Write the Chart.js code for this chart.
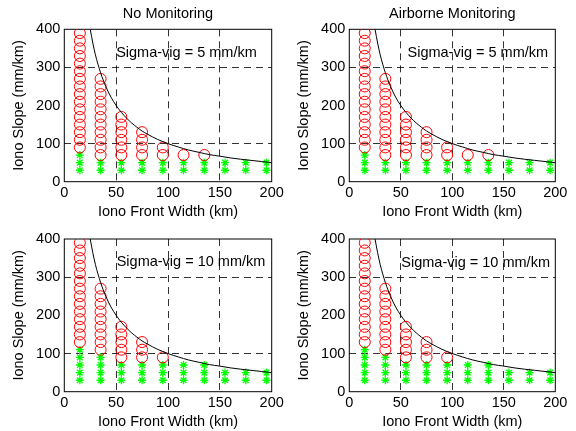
<!DOCTYPE html>
<html>
<head>
<meta charset="utf-8">
<script src="https://cdn.jsdelivr.net/npm/chart.js@4/dist/chart.umd.min.js"></script>
<style>
  body { margin: 0; background: #fff; }
  #wrap { position: relative; width: 576px; height: 431px; overflow: hidden; }
  canvas { position: absolute; }
</style>
</head>
<body>
<div id="wrap">
  <canvas id="c1" width="288" height="221" style="left:0px;top:0px;width:288px;height:221px"></canvas>
  <canvas id="c2" width="291" height="221" style="left:285px;top:0px;width:291px;height:221px"></canvas>
  <canvas id="c3" width="288" height="210" style="left:0px;top:221px;width:288px;height:210px"></canvas>
  <canvas id="c4" width="291" height="210" style="left:285px;top:221px;width:291px;height:210px"></canvas>
</div>
<script>
// front widths of each column of markers (km)
const widths = [15, 35, 55, 75, 95, 115, 135, 155, 175, 195];
// slope levels the markers sit on (mm/km)
const slopeLevels = [30, 50, 70, 90, 110, 130, 150, 170, 190, 210, 230, 250, 270, 290, 310, 330, 350, 370, 390];

// per column: how many green stars from the bottom, then how many red circles above them
const stars5   = [3, 2, 2, 2, 2, 2, 2, 2, 2, 2];
const circles5 = [16, 11, 6, 4, 2, 1, 1, 0, 0, 0];
const stars10   = [5, 4, 3, 3, 3, 3, 3, 2, 2, 2];
const circles10 = [14, 9, 5, 3, 1, 0, 0, 0, 0, 0];

// black boundary curve
const curveX = [25, 27.5, 30, 32.5, 35, 37.5, 40, 45, 50, 55, 60, 65, 70, 75, 80, 90, 100, 110, 120, 130, 140, 150, 160, 170, 180, 190, 200];
const curveY = [400, 364, 333, 308, 286, 267, 250, 222, 200, 182, 167, 154, 143, 133, 125, 111, 100, 91, 83, 77, 71, 67, 62.5, 59, 56, 53, 50];

const xTicks = [0, 50, 100, 150, 200];
const yTicks = [0, 100, 200, 300, 400];

const titles = ['No Monitoring', 'Airborne Monitoring', '', ''];
const notes = ['Sigma-vig = 5 mm/km', 'Sigma-vig = 5 mm/km', 'Sigma-vig = 10 mm/km', 'Sigma-vig = 10 mm/km'];
const noteX = [50, 56.5, 50.5, 50.5];
const noteY = [338, 337, 340, 338];

const FONT = "'Liberation Sans', Arial, sans-serif";

function buildPoints(starCounts, circleCounts) {
    let stars = [], circles = [];
    for (let i = 0; i < widths.length; i++) {
        for (let k = 0; k < starCounts[i]; k++) {
            stars.push({x: widths[i], y: slopeLevels[k]});
        }
        for (let k = starCounts[i]; k < starCounts[i] + circleCounts[i]; k++) {
            circles.push({x: widths[i], y: slopeLevels[k]});
        }
    }
    return {stars, circles};
}

// draws the box, panel title and the sigma note
const panelDeco = {
    id: 'panelDeco',
    beforeDatasetsDraw(chart, args, opts) {
        const a = chart.chartArea;
        const ctx = chart.ctx;
        ctx.save();
        ctx.font = '14.5px ' + FONT;
        ctx.fillStyle = '#000';
        ctx.textBaseline = 'middle';
        ctx.textAlign = 'left';
        ctx.fillText(opts.note, chart.scales.x.getPixelForValue(opts.nx), chart.scales.y.getPixelForValue(opts.ny));
        if (opts.title) {
            ctx.textAlign = 'center';
            ctx.fillText(opts.title, (a.left + a.right) / 2, a.top - 15.3);
        }
        ctx.strokeStyle = '#000';
        ctx.lineWidth = 1;
        ctx.setLineDash([]);
        ctx.strokeRect(a.left, a.top, a.right - a.left, a.bottom - a.top);
        ctx.restore();
    }
};

function makePanel(n, starCounts, circleCounts, padTop, padRight) {
    const pts = buildPoints(starCounts, circleCounts);
    const curve = curveX.map((x, i) => ({x: x, y: curveY[i]}));
    const gridColor = (c) => (c.tick && (c.tick.value === 0 || c.tick.value === 200 || c.tick.value === 400)) ? 'rgba(0,0,0,0)' : 'rgba(0,0,0,0.8)';
    return new Chart(document.getElementById('c' + n), {
        type: 'scatter',
        data: {
            datasets: [
                {
                    data: curve,
                    showLine: true,
                    borderColor: '#000',
                    borderWidth: 1,
                    pointRadius: 0,
                    cubicInterpolationMode: 'monotone',
                    order: 1
                },
                {
                    data: pts.circles,
                    pointStyle: 'circle',
                    pointRadius: 5.5,
                    borderColor: '#ff0000',
                    backgroundColor: 'rgba(0,0,0,0)',
                    borderWidth: 1,
                    order: 2
                },
                {
                    data: pts.stars,
                    pointStyle: 'star',
                    pointRadius: 4,
                    borderColor: '#00ff00',
                    backgroundColor: '#00ff00',
                    borderWidth: 1.3,
                    order: 3
                }
            ]
        },
        options: {
            responsive: false,
            animation: false,
            devicePixelRatio: 1,
            layout: { padding: { top: padTop, right: padRight, left: 0, bottom: 0 } },
            plugins: {
                legend: { display: false },
                tooltip: { enabled: false },
                panelDeco: { title: titles[n - 1], note: notes[n - 1], nx: noteX[n - 1], ny: noteY[n - 1] }
            },
            scales: {
                x: {
                    type: 'linear',
                    min: 0, max: 200,
                    afterBuildTicks: (s) => { s.ticks = xTicks.map(v => ({value: v})); },
                    afterFit: (s) => { s.height = 39.3; },
                    grid: { color: gridColor, lineWidth: 1, drawTicks: false },
                    border: { display: false, dash: [7, 5] },
                    ticks: { color: '#000', padding: 3, font: { family: FONT, size: 14.5 }, maxRotation: 0 },
                    title: { display: true, text: 'Iono Front Width (km)', color: '#000', font: { family: FONT, size: 14.5 }, padding: { top: 0, bottom: 0.6 } }
                },
                y: {
                    type: 'linear',
                    min: 0, max: 400,
                    afterBuildTicks: (s) => { s.ticks = yTicks.map(v => ({value: v})); },
                    afterFit: (s) => { s.width = 64.3; },
                    grid: { color: gridColor, lineWidth: 1, drawTicks: false },
                    border: { display: false, dash: [7, 5] },
                    ticks: { color: '#000', padding: 4, font: { family: FONT, size: 14.5 } },
                    title: { display: true, text: 'Iono Slope (mm/km)', color: '#000', font: { family: FONT, size: 14.5 }, padding: { top: 10.5, bottom: 0 } }
                }
            }
        },
        plugins: [panelDeco]
    });
}

makePanel(1, stars5, circles5, 29.3, 16.3);
makePanel(2, stars5, circles5, 29.3, 20.7);
makePanel(3, stars10, circles10, 18, 16.3);
makePanel(4, stars10, circles10, 18, 20.7);
</script>
</body>
</html>
